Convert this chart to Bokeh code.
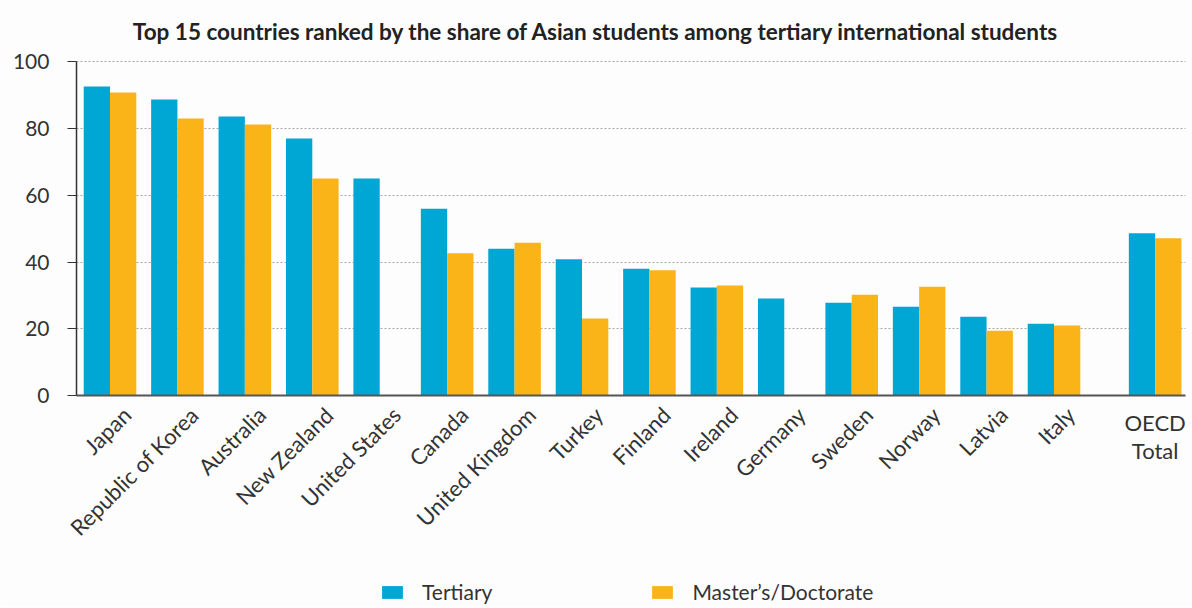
import math
from bokeh.plotting import figure
from bokeh.models import (Label, Legend, LegendItem, FixedTicker, Range1d, LinearAxis, Grid)
from bokeh.embed import file_html
from bokeh.resources import INLINE

# ---- data ----
title_text = "Top 15 countries ranked by the share of Asian students among tertiary international students"
countries = ["Japan", "Republic of Korea", "Australia", "New Zealand", "United States",
             "Canada", "United Kingdom", "Turkey", "Finland", "Ireland", "Germany",
             "Sweden", "Norway", "Latvia", "Italy", "OECD Total"]
tertiary = [92.6, 88.7, 83.6, 77.0, 65.0, 56.0, 44.0, 40.8, 38.0, 32.4, 29.1,
            27.8, 26.6, 23.6, 21.5, 48.6]
masters = [90.8, 83.0, 81.2, 65.0, None, 42.6, 45.8, 23.1, 37.5, 33.0, None,
           30.2, 32.6, 19.4, 21.0, 47.1]
y_ticks = [0, 20, 40, 60, 80, 100]
series_names = ["Tertiary", "Master\u2019s/Doctorate"]

# category slots (OECD Total set apart by half a slot)
pos = [float(i) for i in range(15)] + [15.5]

BLUE = "#00A6D4"
ORANGE = "#FAB418"
TXT = "#333333"
FONT = "Lato"
BW = 0.39
OFF = 0.195
X_LO, X_HI = -0.497, 15.95      # visible extent of the plotting area

p = figure(width=1192, height=606,
           x_range=Range1d(-1.624, 16.054), y_range=Range1d(-63.23, 118.37),
           x_axis_type=None, y_axis_type=None,
           output_backend="svg", toolbar_location=None,
           min_border_left=0, min_border_right=0, min_border_top=0, min_border_bottom=0)
p.background_fill_color = "#fdfdfd"
p.border_fill_color = "#fdfdfd"
p.outline_line_color = None

# grid
p.add_layout(Grid(dimension=1, ticker=FixedTicker(ticks=y_ticks[1:]),
                  cross_bounds=(X_LO, X_HI),
                  grid_line_color="#a8a8a8", grid_line_dash="2 2", grid_line_width=1))

xt = [x - OFF for x in pos]
r1 = p.vbar(x=xt, top=tertiary, bottom=0, width=BW, color=BLUE, line_color=None)
xm = [x + OFF for x, m in zip(pos, masters) if m is not None]
mm = [m for m in masters if m is not None]
r2 = p.vbar(x=xm, top=mm, bottom=0, width=BW, color=ORANGE, line_color=None)

# axes
yax = LinearAxis(fixed_location=X_LO, bounds=(0, 100), ticker=FixedTicker(ticks=y_ticks),
                 axis_line_color="#333333", axis_line_width=1.5,
                 major_tick_line_color="#333333", major_tick_out=9, major_tick_in=0,
                 minor_tick_line_color=None,
                 major_label_text_font=FONT, major_label_text_font_size="21px",
                 major_label_text_color=TXT, major_label_standoff=18)
p.add_layout(yax, "left")
xax = LinearAxis(fixed_location=0, bounds=(X_LO, X_HI), ticker=FixedTicker(ticks=[]),
                 axis_line_color="#555555", axis_line_width=2,
                 major_tick_line_color=None, minor_tick_line_color=None,
                 major_label_text_font_size="0px")
p.add_layout(xax, "below")

# category labels
for x, name in zip(pos[:15], countries[:15]):
    p.add_layout(Label(x=x + 0.25, y=-4.6, text=name, angle=math.pi / 4,
                       text_align="right", text_baseline="middle",
                       text_font=FONT, text_font_size="22px", text_color=TXT))
oecd_lines = countries[15].split(" ")
p.add_layout(Label(x=pos[15], y=-8.1, text=oecd_lines[0], text_align="center",
                   text_baseline="alphabetic", text_font=FONT, text_font_size="22px",
                   text_color=TXT))
p.add_layout(Label(x=pos[15], y=-16.5, text=oecd_lines[1], text_align="center",
                   text_baseline="alphabetic", text_font=FONT, text_font_size="22px",
                   text_color=TXT))

# title
p.add_layout(Label(x=7.21, y=109.17, text=title_text, text_align="center",
                   text_baseline="alphabetic", text_font=FONT, text_font_size="22.5px",
                   text_font_style="bold", text_color="#222222"))

legend = Legend(items=[LegendItem(label=series_names[0], renderers=[r1]),
                       LegendItem(label=series_names[1], renderers=[r2])],
                orientation="horizontal", location=(379, 2),
                glyph_width=26, glyph_height=16, label_standoff=17, spacing=157,
                label_height=20, padding=0, margin=0, border_line_color=None,
                background_fill_alpha=0,
                label_text_font=FONT, label_text_font_size="21px", label_text_color=TXT)
p.add_layout(legend)

open("out.html", "w").write(file_html(p, INLINE))
